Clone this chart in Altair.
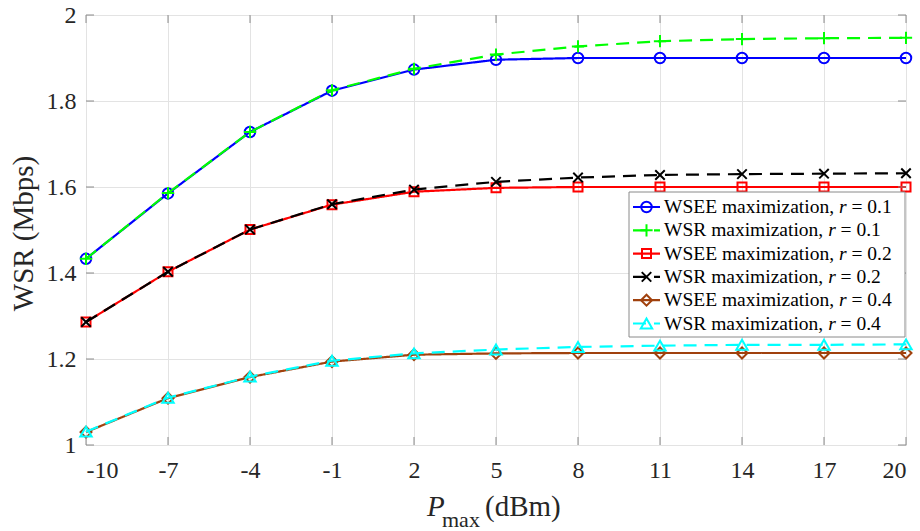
import altair as alt
import pandas as pd

# ---------------- data ----------------
P_MAX = [-10, -7, -4, -1, 2, 5, 8, 11, 14, 17, 20]
WSEE_R01 = [1.433, 1.585, 1.728, 1.824, 1.873, 1.896, 1.900, 1.900, 1.900, 1.900, 1.900]
WSR_R01 = [1.433, 1.586, 1.728, 1.825, 1.875, 1.908, 1.927, 1.939, 1.944, 1.946, 1.947]
WSEE_R02 = [1.286, 1.403, 1.501, 1.559, 1.589, 1.598, 1.600, 1.600, 1.600, 1.600, 1.600]
WSR_R02 = [1.286, 1.403, 1.501, 1.560, 1.594, 1.612, 1.622, 1.628, 1.630, 1.631, 1.632]
WSEE_R04 = [1.030, 1.109, 1.158, 1.194, 1.210, 1.213, 1.214, 1.214, 1.214, 1.214, 1.214]
WSR_R04 = [1.031, 1.110, 1.159, 1.196, 1.213, 1.222, 1.228, 1.231, 1.233, 1.233, 1.234]

SERIES_VALUES = [WSEE_R01, WSR_R01, WSEE_R02, WSR_R02, WSEE_R04, WSR_R04]
SERIES = ["WSEE r0.1", "WSR r0.1", "WSEE r0.2", "WSR r0.2", "WSEE r0.4", "WSR r0.4"]
LEG_A = ["WSEE maximization, ", "WSR maximization, ", "WSEE maximization, ",
         "WSR maximization, ", "WSEE maximization, ", "WSR maximization, "]
LEG_A_EM = [8.972, 8.417, 8.972, 8.417, 8.972, 8.417]  # Times metrics widths
LEG_R = ["0.1", "0.1", "0.2", "0.2", "0.4", "0.4"]

X_TICKS = [-10, -7, -4, -1, 2, 5, 8, 11, 14, 17, 20]
Y_TICKS = [1, 1.2, 1.4, 1.6, 1.8, 2]

# ---------------- style ----------------
COLORS = ["#0000ff", "#00ff00", "#ff0000", "#000000", "#a0410d", "#00ffff"]
DASHES = [[1, 0], [13, 8], [1, 0], [13, 8], [1, 0], [13, 8]]
SHAPES = ["circle", "M-1,0L1,0M0,-1L0,1", "square", "M-1,-1L1,1M-1,1L1,-1",
          "diamond", "triangle-up"]
SIZES = [110, 150, 81, 90, 121, 130]
FONT = "Liberation Serif"
W, H = 820, 430
AX = "#8a8a8a"
TXT = "#262626"
LEG_FS = 19.5

xscale = alt.Scale(domain=[-10, 20], nice=False, zero=False)
yscale = alt.Scale(domain=[1, 2], nice=False, zero=False)
xaxis = alt.Axis(values=X_TICKS, labelExpr="'' + datum.value", labelFont=FONT,
                 labelFontSize=24, labelColor=TXT, labelPadding=13, ticks=False,
                 domain=False, grid=True, gridColor="#e3e3e3", gridWidth=1, title=None)
yaxis = alt.Axis(values=Y_TICKS, format="~g", labelFont=FONT, labelFontSize=24,
                 labelColor=TXT, labelPadding=10, ticks=False, domain=False, grid=True,
                 gridColor="#e3e3e3", gridWidth=1, title="WSR (Mbps)", titleFont=FONT,
                 titleFontSize=29, titleFontWeight="normal", titleColor=TXT,
                 titleX=-54, titleY=218, titleAngle=270, titleAlign="center",
                 titleBaseline="alphabetic")
X = alt.X("P:Q", scale=xscale, axis=xaxis)
Y = alt.Y("W:Q", scale=yscale, axis=yaxis)

layers = []
for i, vals in enumerate(SERIES_VALUES):
    d = pd.DataFrame({"P": P_MAX, "W": vals})
    layers.append(alt.Chart(d).mark_line(color=COLORS[i], strokeWidth=2.2,
                                         strokeDash=DASHES[i]).encode(x=X, y=Y))
    layers.append(alt.Chart(d).mark_point(shape=SHAPES[i], size=SIZES[i], filled=False,
                                          color=COLORS[i], strokeWidth=2,
                                          opacity=1).encode(x=X, y=Y))

# inward ticks (box on all sides)
xt = pd.DataFrame({"P": X_TICKS})
yt = pd.DataFrame({"W": Y_TICKS})
layers.append(alt.Chart(xt).mark_rule(color=AX).encode(x=X, y=alt.value(H), y2=alt.value(H - 8)))
layers.append(alt.Chart(xt).mark_rule(color=AX).encode(x=X, y=alt.value(0), y2=alt.value(8)))
layers.append(alt.Chart(yt).mark_rule(color=AX).encode(y=Y, x=alt.value(0), x2=alt.value(8)))
layers.append(alt.Chart(yt).mark_rule(color=AX).encode(y=Y, x=alt.value(W - 8), x2=alt.value(W)))

# legend
one = pd.DataFrame({"a": [0]})
layers.append(alt.Chart(one).mark_rect(fill="white", stroke=AX, strokeWidth=1).encode(
    x=alt.value(543), x2=alt.value(819), y=alt.value(177), y2=alt.value(322)))

leg_rows = []
for i, s in enumerate(SERIES):
    ax = 578
    rx = ax + LEG_A_EM[i] * LEG_FS
    cx = rx + (0.389 + 0.25) * LEG_FS
    leg_rows.append({"series": s, "ly": 192 + i * 23.3, "lx0": 547, "lx1": 574,
                     "mx": 560.5, "ax": ax, "rx": rx, "cx": cx, "ta": LEG_A[i].rstrip(),
                     "tr": "r", "tc": "= " + LEG_R[i], "shp": SHAPES[i], "sz": SIZES[i]})
leg = pd.DataFrame(leg_rows)
cscale = alt.Scale(domain=SERIES, range=COLORS)
dscale = alt.Scale(domain=SERIES, range=DASHES)
LY = alt.Y("ly:Q", scale=None, axis=None)
layers.append(alt.Chart(leg).mark_rule(strokeWidth=2.2).encode(
    x=alt.X("lx0:Q", scale=None, axis=None), x2="lx1:Q", y=LY,
    color=alt.Color("series:N", scale=cscale, legend=None),
    strokeDash=alt.StrokeDash("series:N", scale=dscale, legend=None)))
layers.append(alt.Chart(leg).mark_point(filled=False, strokeWidth=2, opacity=1).encode(
    x=alt.X("mx:Q", scale=None, axis=None), y=LY,
    color=alt.Color("series:N", scale=cscale, legend=None),
    shape=alt.Shape("shp:N", scale=None, legend=None),
    size=alt.Size("sz:Q", scale=None, legend=None)))
layers.append(alt.Chart(leg).mark_text(align="left", baseline="middle", font=FONT,
                                       fontSize=LEG_FS, color="#000000").encode(
    x=alt.X("ax:Q", scale=None, axis=None), y=LY, text="ta:N"))
layers.append(alt.Chart(leg).mark_text(align="left", baseline="middle", font=FONT,
                                       fontSize=LEG_FS, fontStyle="italic",
                                       color="#000000").encode(
    x=alt.X("rx:Q", scale=None, axis=None), y=LY, text="tr:N"))
layers.append(alt.Chart(leg).mark_text(align="left", baseline="middle", font=FONT,
                                       fontSize=LEG_FS, color="#000000").encode(
    x=alt.X("cx:Q", scale=None, axis=None), y=LY, text="tc:N"))

# x-axis title: P_max (dBm)
layers.append(alt.Chart(one).mark_text(text="P", align="left", baseline="alphabetic",
                                       font=FONT, fontSize=29, fontStyle="italic",
                                       color=TXT).encode(x=alt.value(341), y=alt.value(501)))
layers.append(alt.Chart(one).mark_text(text="max", align="left", baseline="alphabetic",
                                       font=FONT, fontSize=22,
                                       color=TXT).encode(x=alt.value(356), y=alt.value(512)))
layers.append(alt.Chart(one).mark_text(text="(dBm)", align="left", baseline="alphabetic",
                                       font=FONT, fontSize=29,
                                       color=TXT).encode(x=alt.value(399), y=alt.value(501)))

chart = alt.layer(*layers).properties(
    width=W, height=H,
    padding={"left": 86, "top": 15, "right": 14, "bottom": 86},
    autosize=alt.AutoSizeParams(type="none"),
).configure_view(stroke=AX, strokeWidth=1).configure(background="white")

chart.save("out.html", embed_options={"renderer": "svg", "actions": False})
